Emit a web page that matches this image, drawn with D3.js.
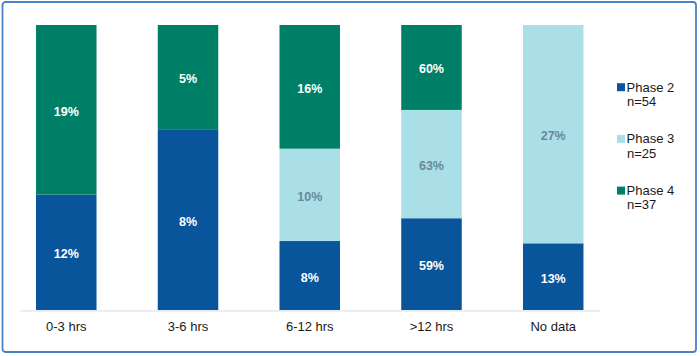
<!DOCTYPE html>
<html>
<head>
<meta charset="utf-8">
<script src="https://cdn.jsdelivr.net/npm/d3@7"></script>
<style>
  html, body { margin: 0; padding: 0; background: #fff; }
  svg { display: block; }
  text { font-family: "Liberation Sans", Arial, sans-serif; }
</style>
</head>
<body>
<svg id="chart" width="700" height="356"></svg>
<script>
// ---- data ----
const categories = ["0-3 hrs", "3-6 hrs", "6-12 hrs", ">12 hrs", "No data"];
const seriesNames = ["Phase 2", "Phase 3", "Phase 4"];
const seriesN = ["n=54", "n=25", "n=37"];
// segment heights as share of the column (%)
const phase2Share = [40.5, 63.2, 24.2, 32.2, 23.4];
const phase3Share = [0, 0, 32.4, 38.0, 76.6];
const phase4Share = [59.5, 36.8, 43.4, 29.8, 0];
// printed labels (% within each phase)
const phase2Label = ["12%", "8%", "8%", "59%", "13%"];
const phase3Label = ["", "", "10%", "63%", "27%"];
const phase4Label = ["19%", "5%", "16%", "60%", ""];

const colors = ["#08559b", "#aadfe7", "#007f67"];
const labelColors = ["#ffffff", "#6a889b", "#ffffff"];

const shares = [phase2Share, phase3Share, phase4Share];
const labels = [phase2Label, phase3Label, phase4Label];

const rows = categories.map((c, i) => {
  const r = { cat: c };
  seriesNames.forEach((s, k) => { r[s] = shares[k][i]; });
  return r;
});
const stacked = d3.stack().keys(seriesNames)(rows);

const svg = d3.select("#chart");

// frame
svg.append("rect")
  .attr("x", 2.5).attr("y", 2).attr("width", 693.5).attr("height", 350)
  .attr("rx", 3).attr("fill", "#fff")
  .attr("stroke", "#4a82c4").attr("stroke-width", 1.8);

const x = d3.scaleBand().domain(categories)
  .range([5.4, 614.1]).paddingInner(0.503).paddingOuter(0.2515);
const y = d3.scaleLinear().domain([0, 100]).range([310, 25]);

// axis baseline
svg.append("line")
  .attr("x1", 20).attr("x2", 600).attr("y1", 310.8).attr("y2", 310.8)
  .attr("stroke", "#dde4ea").attr("stroke-width", 1.2);

// bars
const groups = svg.selectAll("g.series").data(stacked).join("g")
  .attr("class", "series")
  .attr("fill", (d, k) => colors[k]);

groups.selectAll("rect").data(d => d.map(v => ({ v, cat: v.data.cat })))
  .join("rect")
  .attr("x", d => x(d.cat))
  .attr("width", x.bandwidth())
  .attr("y", d => y(d.v[1]))
  .attr("height", d => y(d.v[0]) - y(d.v[1]));

// segment labels
stacked.forEach((s, k) => {
  svg.append("g").selectAll("text").data(s).join("text")
    .filter((d, i) => labels[k][i] !== "")
    .attr("x", d => x(d.data.cat) + x.bandwidth() / 2)
    .attr("y", d => (y(d[0]) + y(d[1])) / 2 + 1.5)
    .attr("dy", "0.36em")
    .attr("text-anchor", "middle")
    .attr("font-size", "12.5px")
    .attr("font-weight", "bold")
    .attr("fill", labelColors[k])
    .text(d => labels[k][categories.indexOf(d.data.cat)]);
});

// category axis labels
const xAxis = d3.axisBottom(x).tickSize(0).tickPadding(0);
const ax = svg.append("g").attr("transform", "translate(0,320)").call(xAxis);
ax.select(".domain").remove();
ax.selectAll("text")
  .attr("font-family", "Liberation Sans, Arial, sans-serif")
  .attr("font-size", "13px")
  .attr("fill", "#1a1a1a")
  .attr("dy", "0.71em")
  .attr("y", 1.5);

// legend
const lg = svg.append("g").selectAll("g").data(seriesNames).join("g")
  .attr("transform", (d, k) => `translate(617,${91.5 + k * 51.7})`);
lg.append("rect").attr("x", 0).attr("y", -8.3).attr("width", 8).attr("height", 8)
  .attr("fill", (d, k) => colors[k]);
lg.append("text").attr("x", 9.5).attr("y", 0)
  .attr("font-size", "13px").attr("fill", "#1a1a1a").text(d => d);
lg.append("text").attr("x", 10).attr("y", 14.5)
  .attr("font-size", "13px").attr("fill", "#1a1a1a")
  .text((d, k) => seriesN[k]);
</script>
</body>
</html>
